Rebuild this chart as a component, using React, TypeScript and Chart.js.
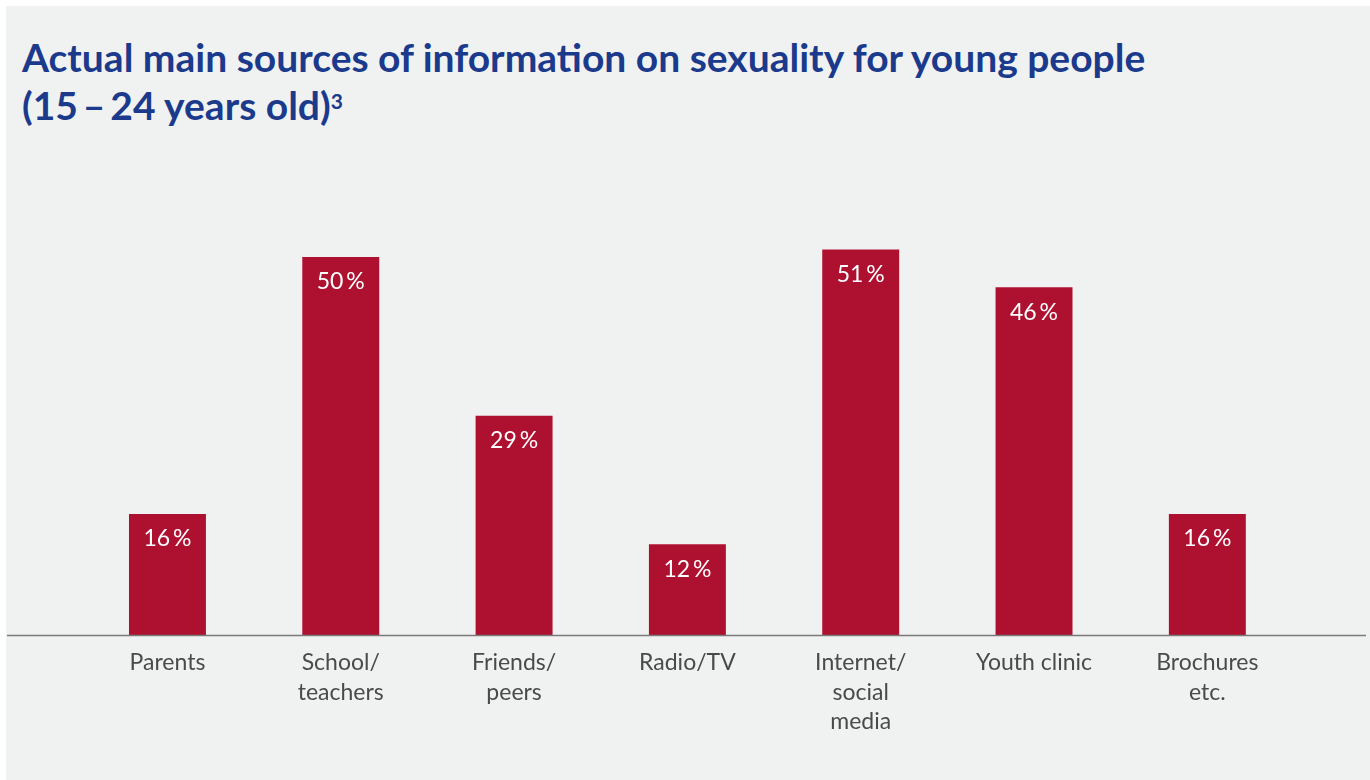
import React, { useEffect, useRef } from "react";
import { Chart, registerables } from "chart.js";

Chart.register(...registerables);

const categories: (string | string[])[] = [
  "Parents",
  ["School/", "teachers"],
  ["Friends/", "peers"],
  "Radio/TV",
  ["Internet/", "social", "media"],
  "Youth clinic",
  ["Brochures", "etc."],
];
const values: number[] = [16, 50, 29, 12, 51, 46, 16];
const valueLabels: string[] = ["16\u2009%", "50\u2009%", "29\u2009%", "12\u2009%", "51\u2009%", "46\u2009%", "16\u2009%"];

const BAR = "#ae1030";
const FONT = "Lato, 'Noto Sans', sans-serif";

export default function App() {
  const ref = useRef<HTMLCanvasElement>(null);
  useEffect(() => {
    if (!ref.current) return;
    const axisLine = {
      id: "axisLine",
      afterDatasetsDraw(chart: any) {
        const { ctx } = chart;
        const y = chart.scales.y.getPixelForValue(0);
        ctx.save();
        ctx.strokeStyle = "#7a7a7a";
        ctx.lineWidth = 1.5;
        ctx.beginPath();
        ctx.moveTo(1, y + 0.5);
        ctx.lineTo(chart.width - 4, y + 0.5);
        ctx.stroke();
        ctx.restore();
      },
    };
    const barLabels = {
      id: "barLabels",
      afterDatasetsDraw(chart: any) {
        const { ctx } = chart;
        const meta = chart.getDatasetMeta(0);
        ctx.save();
        ctx.fillStyle = "#ffffff";
        ctx.font = `23px ${FONT}`;
        ctx.textAlign = "center";
        ctx.textBaseline = "middle";
        meta.data.forEach((bar: any, i: number) => {
          ctx.fillText(valueLabels[i], bar.x, bar.y + 25);
        });
        ctx.restore();
      },
    };
    const chart = new Chart(ref.current, {
      type: "bar",
      data: {
        labels: categories,
        datasets: [
          {
            data: values,
            backgroundColor: BAR,
            categoryPercentage: 1,
            barPercentage: 0.444,
          },
        ],
      },
      options: {
        animation: false,
        responsive: false,
        maintainAspectRatio: false,
        layout: { padding: { left: 74.8, right: 76, top: 31.4, bottom: 45 } },
        plugins: { legend: { display: false }, tooltip: { enabled: false } },
        scales: {
          x: {
            grid: { display: false, drawTicks: false },
            border: { display: false },
            ticks: {
              color: "#4a4a4a",
              font: { family: FONT, size: 23, lineHeight: 1.28 },
              padding: 13,
              maxRotation: 0,
              autoSkip: false,
            },
            afterFit(scale: any) {
              scale.height = 100;
            },
          },
          y: {
            display: false,
            min: 0,
            max: 60,
          },
        },
      },
      plugins: [axisLine, barLabels],
    });
    return () => chart.destroy();
  }, []);

  return (
    <div style={{ position: "absolute", left: 0, top: 0, width: 1370, height: 780, background: "#ffffff", overflow: "hidden" }}>
      <div style={{ position: "absolute", left: 6, top: 6, width: 1364, height: 774, background: "#f0f2f1" }}>
        <div
          style={{
            position: "absolute",
            left: 16,
            top: 27,
            color: "#1b3a8c",
            fontFamily: FONT,
            fontWeight: 700,
            fontSize: 39,
            lineHeight: "48px",
            whiteSpace: "nowrap",
          }}
        >
          Actual main sources of information on sexuality for young people
          <br />
          (15{"\u2009"}–{"\u2009"}24 years old)
          <sup style={{ fontSize: 21, verticalAlign: "top", position: "relative", top: -4 }}>3</sup>
        </div>
        <canvas ref={ref} width={1364} height={630} style={{ position: "absolute", left: 0, top: 144, width: 1364, height: 630 }} />
      </div>
    </div>
  );
}
